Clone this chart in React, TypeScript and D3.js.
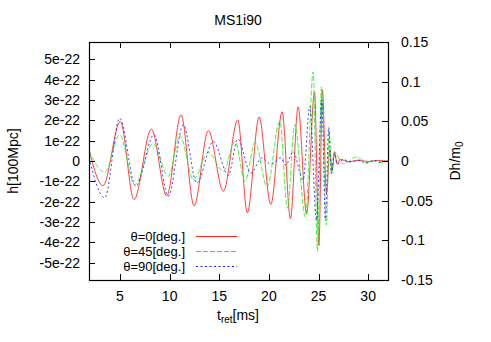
import { useEffect, useRef } from 'react';
import * as d3 from 'd3';

// strain in units of 1e-22 (left axis): [t_ret ms, h]
const theta0: [number, number][] = [
  [1.875, 0.55], [3.29, -1.21], [5.03, 1.94], [6.41, -1.9], [8.16, 1.57], [9.71, -1.72],
  [11.15, 2.27], [12.46, -2.2], [13.9, 1.5], [15.41, -1.49], [16.86, 2.02], [17.83, -2.55],
  [19.01, 2.16], [20.19, -2.14], [21.33, 2.42], [22.17, -2.84], [22.94, 2.66], [23.8, -2.6],
  [24.6, 3.4], [25.04, -4.15], [25.39, 3.5], [25.8, -1.6], [26.14, 0.55], [26.37, -0.5],
  [26.62, 0.45], [26.87, -0.15], [27.18, 0.08], [28, -0.04], [29, 0.03], [30, -0.02],
  [31, 0.02], [32, 0],
];

const theta45: [number, number][] = [
  [1.875, 0.5], [3.46, -0.56], [4.97, 1.29], [6.48, -1.16], [8.33, 0.85], [9.87, -0.75],
  [11.05, 1.24], [12.39, -0.92], [13.9, 0.42], [15.41, -0.51], [16.59, 0.96], [17.6, -1.0],
  [18.61, 0.91], [19.82, -1.27], [21.1, 1.96], [21.87, -2.32], [22.61, 1.8], [23.68, -2.75],
  [24.46, 4.38], [24.89, -4.45], [25.29, 3.64], [25.8, -3.14], [26.07, 1.5], [26.3, -0.65],
  [26.57, 0.45], [27.5, -0.14], [28.86, 0.2], [29.9, -0.08], [30.6, 0.0], [31.2, -0.08],
  [32, 0],
];

const theta90: [number, number][] = [
  [1.875, 0.15], [3.46, -1.81], [4.97, 2.1], [6.58, -1.24], [8.43, 1.29], [9.87, -1.73],
  [11.38, 1.78], [12.73, -1.08], [14.4, 0.96], [15.92, -0.7], [16.86, 1.08], [18.18, -0.6],
  [19.28, 0.15], [20.2, -0.15], [21.2, 0.15], [21.7, -0.2], [22.44, 0.46], [23.45, -0.93],
  [24.12, 2.7], [24.79, -2.9], [25.33, 3.0], [25.7, -2.95], [26.02, 1.65], [26.3, -0.6],
  [26.6, 0.35], [26.9, -0.15], [27.5, 0.08], [28.2, -0.05], [29, 0.05], [29.8, -0.1],
  [30.6, 0.03], [31.3, -0.05], [32, 0],
];

const seriesLabels = ['θ=0[deg.]', 'θ=45[deg.]', 'θ=90[deg.]'];
const seriesColors = ['#ff2020', '#22f022', '#2020ff'];
const seriesDash = ['none', '5,2', '2,2.5'];

const tTicks = [5, 10, 15, 20, 25, 30];
const hTicks = [-5, -4, -3, -2, -1, 0, 1, 2, 3, 4, 5];
const dhTicks = [-0.15, -0.1, -0.05, 0, 0.05, 0.1, 0.15];

const W = 491;
const H = 342;
const FONT = '"Liberation Sans", Arial, sans-serif';

const App = () => {
  const svgRef = useRef<SVGSVGElement>(null);

  useEffect(() => {
    if (!svgRef.current) return;
    const margin = { top: 42, right: 103, bottom: 62, left: 89 };
    const x0 = margin.left, x1 = W - margin.right;
    const y0 = margin.top, y1 = H - margin.bottom;

    const svg = d3.select(svgRef.current);
    svg.selectAll('*').remove();

    const x = d3.scaleLinear().domain([1.875, 32]).range([x0, x1]);
    const y = d3.scaleLinear().domain([-5.85, 5.85]).range([y1, y0]);
    const y2 = d3.scaleLinear().domain([-0.15, 0.15]).range([y1, y0]);

    svg.append('defs').append('clipPath').attr('id', 'plot')
      .append('rect').attr('x', x0).attr('y', y0).attr('width', x1 - x0).attr('height', y1 - y0);

    const line = d3.line<[number, number]>()
      .x(d => x(d[0]))
      .y(d => y(d[1]))
      .curve(d3.curveMonotoneX);

    const allData = [theta0, theta45, theta90];
    const g = svg.append('g').attr('clip-path', 'url(#plot)');
    allData.forEach((data, i) => {
      g.append('path')
        .attr('d', line(data))
        .attr('fill', 'none')
        .attr('stroke', seriesColors[i])
        .attr('stroke-width', 1)
        .attr('stroke-opacity', 0.85)
        .attr('stroke-dasharray', seriesDash[i]);
    });

    const tick = 6;
    const axes = svg.append('g').attr('stroke', '#000').attr('stroke-width', 1);
    // bottom + mirrored top ticks
    tTicks.forEach(t => {
      const px = Math.round(x(t)) + 0.5;
      axes.append('line').attr('x1', px).attr('x2', px).attr('y1', y1).attr('y2', y1 - tick);
      axes.append('line').attr('x1', px).attr('x2', px).attr('y1', y0).attr('y2', y0 + tick);
    });
    hTicks.forEach(v => {
      const py = Math.round(y(v)) + 0.5;
      axes.append('line').attr('x1', x0).attr('x2', x0 + tick).attr('y1', py).attr('y2', py);
    });
    dhTicks.forEach(v => {
      const py = Math.round(y2(v)) + 0.5;
      axes.append('line').attr('x1', x1).attr('x2', x1 - tick).attr('y1', py).attr('y2', py);
    });
    svg.append('rect')
      .attr('x', x0 + 0.5).attr('y', y0 + 0.5)
      .attr('width', x1 - x0).attr('height', y1 - y0)
      .attr('fill', 'none').attr('stroke', '#000').attr('stroke-width', 1.2);

    const txt = svg.append('g').style('font-family', FONT).style('font-size', '14px').attr('fill', '#000');

    tTicks.forEach(t => {
      txt.append('text').attr('x', x(t)).attr('y', 301).attr('text-anchor', 'middle').text(t);
    });
    hTicks.forEach(v => {
      txt.append('text').attr('x', 80).attr('y', y(v)).attr('dy', '0.35em')
        .attr('text-anchor', 'end').text(v === 0 ? '0' : `${v}e-22`);
    });
    dhTicks.forEach(v => {
      txt.append('text').attr('x', 401).attr('y', y2(v)).attr('dy', '0.35em')
        .attr('text-anchor', 'start').text(String(v));
    });

    txt.append('text').attr('x', 238).attr('y', 25).attr('text-anchor', 'middle').text('MS1i90');

    const xl = txt.append('text').attr('x', 238).attr('y', 320).attr('text-anchor', 'middle');
    xl.append('tspan').text('t');
    xl.append('tspan').attr('dy', 3).style('font-size', '10px').text('ret');
    xl.append('tspan').attr('dy', -3).text('[ms]');

    txt.append('text').attr('transform', 'translate(17.5,161) rotate(-90)')
      .attr('text-anchor', 'middle').text('h[100Mpc]');

    const yl2 = txt.append('text').attr('transform', 'translate(460,161) rotate(-90)')
      .attr('text-anchor', 'middle');
    yl2.append('tspan').text('Dh/m');
    yl2.append('tspan').attr('dy', 3).style('font-size', '10px').text('0');

    // legend
    const legendY = [236.5, 251.5, 266.5];
    seriesLabels.forEach((label, i) => {
      txt.append('text').attr('x', 185).attr('y', legendY[i]).attr('dy', '0.35em')
        .style('font-size', '13px')
        .attr('text-anchor', 'end').text(label);
      svg.append('line')
        .attr('x1', 196).attr('x2', 237)
        .attr('y1', legendY[i]).attr('y2', legendY[i])
        .attr('stroke', seriesColors[i]).attr('stroke-width', 1)
        .attr('stroke-dasharray', seriesDash[i]);
    });
  }, []);

  return (
    <svg ref={svgRef} width={W} height={H}
      style={{ position: 'absolute', left: 0, top: 0, background: '#fff' }} />
  );
};

export default App;
